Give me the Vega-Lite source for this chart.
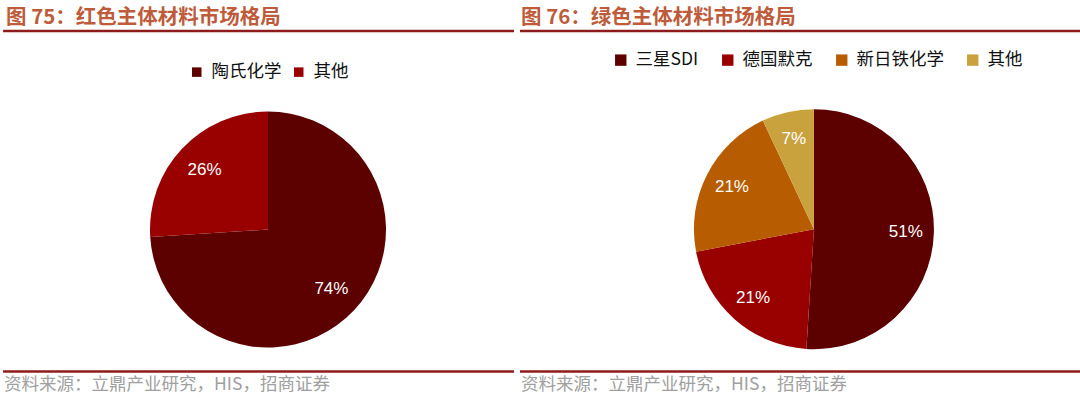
{
  "$schema": "https://vega.github.io/schema/vega-lite/v6.json",
  "padding": {"left": 0, "top": 8, "right": 0, "bottom": 0},
  "background": "white",
  "spacing": 2,
  "datasets": {
    "red": [
      {"company": "陶氏化学", "share": 74, "rank": 1, "label": "74%"},
      {"company": "其他", "share": 26, "rank": 2, "label": "26%"}
    ],
    "green": [
      {"company": "三星SDI", "share": 51, "rank": 1, "label": "51%"},
      {"company": "德国默克", "share": 21, "rank": 2, "label": "21%"},
      {"company": "新日铁化学", "share": 21, "rank": 3, "label": "21%"},
      {"company": "其他", "share": 7, "rank": 4, "label": "7%"}
    ],
    "frame": [{"k": 1}]
  },
  "config": {
    "view": {"stroke": null},
    "font": "Noto Sans CJK SC",
    "title": {"anchor": "start", "frame": "group", "fontSize": 20.5, "fontWeight": "bold", "color": "#BD5B3B", "font": "Noto Sans CJK SC", "offset": 1},
    "legend": {"labelFont": "Noto Sans CJK SC", "labelFontSize": 17.5, "labelColor": "#111111", "symbolType": "square", "symbolStrokeWidth": 0, "orient": "none", "direction": "horizontal", "title": null, "labelOffset": 6, "padding": 0}
  },
  "resolve": {"scale": {"color": "independent"}, "legend": {"color": "independent"}},
  "hconcat": [
    {
      "width": 514,
      "height": 369,
      "title": {"text": "图 75：红色主体材料市场格局", "dx": 6},
      "layer": [
        {
          "data": {"name": "frame"},
          "mark": {"type": "rule", "color": "#8E1B1B", "strokeWidth": 2.5},
          "encoding": {
            "x": {"datum": 0.006, "type": "quantitative", "scale": {"domain": [0, 1]}, "axis": null},
            "x2": {"datum": 1},
            "y": {"datum": 1, "type": "quantitative", "scale": {"domain": [0, 1]}, "axis": null}
          }
        },
        {
          "data": {"name": "frame"},
          "mark": {"type": "rule", "color": "#8E1B1B", "strokeWidth": 2.5},
          "encoding": {
            "x": {"datum": 0.006, "type": "quantitative"},
            "x2": {"datum": 1},
            "y": {"datum": 0.077, "type": "quantitative"}
          }
        },
        {
          "data": {"values": [{"src": "资料来源：立鼎产业研究，HIS，招商证券"}]},
          "mark": {"type": "text", "align": "left", "baseline": "middle", "fontSize": 17.5, "color": "#A0A0A0", "font": "Noto Sans CJK SC"},
          "encoding": {
            "x": {"datum": 0.008, "type": "quantitative"},
            "y": {"datum": 0.042, "type": "quantitative"},
            "text": {"field": "src"}
          }
        },
        {
          "data": {"name": "red"},
          "mark": {"type": "arc", "outerRadius": 118},
          "encoding": {
            "x": {"datum": 0.5214, "type": "quantitative"},
            "y": {"datum": 0.462, "type": "quantitative"},
            "theta": {"field": "share", "type": "quantitative", "stack": true},
            "order": {"field": "rank"},
            "color": {
              "field": "company", "type": "nominal",
              "scale": {"domain": ["陶氏化学", "其他"], "range": ["#5C0000", "#990000"]},
              "legend": {"legendX": 188, "legendY": 32, "symbolSize": 90, "columnPadding": 8}
            }
          }
        },
        {
          "data": {"name": "red"},
          "mark": {"type": "text", "radius": 87, "fontSize": 17, "color": "white", "font": "Liberation Sans"},
          "encoding": {
            "x": {"datum": 0.5214, "type": "quantitative"},
            "y": {"datum": 0.462, "type": "quantitative"},
            "theta": {"field": "share", "type": "quantitative", "stack": true},
            "order": {"field": "rank"},
            "text": {"field": "label"}
          }
        }
      ]
    },
    {
      "width": 562,
      "height": 369,
      "title": {"text": "图 76：绿色主体材料市场格局", "dx": 1},
      "layer": [
        {
          "data": {"name": "frame"},
          "mark": {"type": "rule", "color": "#8E1B1B", "strokeWidth": 2.5},
          "encoding": {
            "x": {"datum": 0, "type": "quantitative", "scale": {"domain": [0, 1]}, "axis": null},
            "x2": {"datum": 1},
            "y": {"datum": 1, "type": "quantitative", "scale": {"domain": [0, 1]}, "axis": null}
          }
        },
        {
          "data": {"name": "frame"},
          "mark": {"type": "rule", "color": "#8E1B1B", "strokeWidth": 2.5},
          "encoding": {
            "x": {"datum": 0, "type": "quantitative"},
            "x2": {"datum": 1},
            "y": {"datum": 0.077, "type": "quantitative"}
          }
        },
        {
          "data": {"values": [{"src": "资料来源：立鼎产业研究，HIS，招商证券"}]},
          "mark": {"type": "text", "align": "left", "baseline": "middle", "fontSize": 17.5, "color": "#A0A0A0", "font": "Noto Sans CJK SC"},
          "encoding": {
            "x": {"datum": 0.002, "type": "quantitative"},
            "y": {"datum": 0.042, "type": "quantitative"},
            "text": {"field": "src"}
          }
        },
        {
          "data": {"name": "green"},
          "mark": {"type": "arc", "outerRadius": 120},
          "encoding": {
            "x": {"datum": 0.523, "type": "quantitative"},
            "y": {"datum": 0.463, "type": "quantitative"},
            "theta": {"field": "share", "type": "quantitative", "stack": true},
            "order": {"field": "rank"},
            "color": {
              "field": "company", "type": "nominal",
              "scale": {"domain": ["三星SDI", "德国默克", "新日铁化学", "其他"], "range": ["#5C0000", "#990000", "#B85C00", "#C9A23E"]},
              "legend": {"legendX": 92, "legendY": 20, "symbolSize": 130, "columnPadding": 20}
            }
          }
        },
        {
          "data": {"name": "green"},
          "mark": {"type": "text", "radius": 92, "fontSize": 17, "color": "white", "font": "Liberation Sans"},
          "encoding": {
            "x": {"datum": 0.523, "type": "quantitative"},
            "y": {"datum": 0.463, "type": "quantitative"},
            "theta": {"field": "share", "type": "quantitative", "stack": true},
            "order": {"field": "rank"},
            "text": {"field": "label"}
          }
        }
      ]
    }
  ]
}
